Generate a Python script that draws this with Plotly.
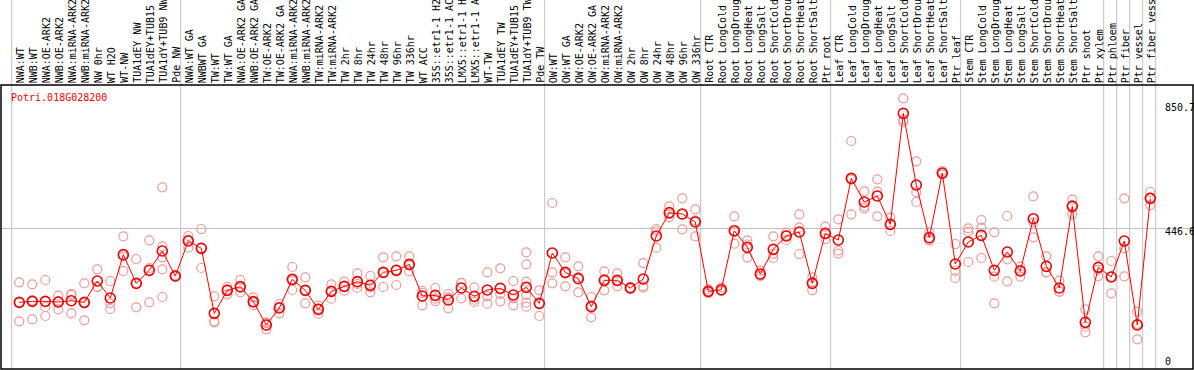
import plotly.graph_objects as go

gene = "Potri.018G028200"

labels = [
    "NWA:WT", "NWB:WT", "NWA:OE-ARK2", "NWB:OE-ARK2", "NWA:miRNA-ARK2", "NWB:miRNA-ARK2",
    "NW 0hr", "WT H2O", "WT-NW", "TUA1dEY NW", "TUA1dEY+TUB15", "TUA1dY+TUB9 NW", "Pde NW",
    "NWA:WT GA", "NWBWT GA", "TW:WT", "TW:WT GA", "NWA:OE-ARK2 GA", "NWB:OE-ARK2 GA",
    "TW:OE-ARK2", "TW:OE-ARK2 GA", "NWA:miRNA-ARK2", "NWB:miRNA-ARK2", "TW:miRNA-ARK2",
    "TW:miRNA-ARK2", "TW 2hr", "TW 8hr", "TW 24hr", "TW 48hr", "TW 96hr", "TW 336hr",
    "WT ACC", "35S::etr1-1 H2O", "35S::etr1-1 ACC", "LMX5::etr1-1 H2O", "LMX5::etr1-1 ACC",
    "WT-TW", "TUA1dEY TW", "TUA1dEY+TUB15", "TUA1dY+TUB9 TW", "Pde TW",
    "OW:WT", "OW:WT GA", "OW:OE-ARK2", "OW:OE-ARK2 GA", "OW:miRNA-ARK2", "OW:miRNA-ARK2",
    "OW 2hr", "OW 8hr", "OW 24hr", "OW 48hr", "OW 96hr", "OW 336hr",
    "Root CTR", "Root LongCold", "Root LongDrought", "Root LongHeat", "Root LongSalt",
    "Root ShortCold", "Root ShortDrought", "Root ShortHeat", "Root ShortSalt", "Ptr root",
    "Leaf CTR", "Leaf LongCold", "Leaf LongDrought", "Leaf LongHeat", "Leaf LongSalt",
    "Leaf ShortCold", "Leaf ShortDrought", "Leaf ShortHeat", "Leaf ShortSalt", "Ptr leaf",
    "Stem CTR", "Stem LongCold", "Stem LongDrought", "Stem LongHeat", "Stem LongSalt",
    "Stem ShortCold", "Stem ShortDrought", "Stem ShortHeat", "Stem ShortSalt", "Ptr shoot",
    "Ptr xylem", "Ptr phloem", "Ptr fiber", "Ptr vessel", "Ptr fiber vessel",
]

means = [
    206.6, 209.8, 209.8, 207.7, 212.0, 206.6, 275.7, 220.6, 361.1, 268.2, 310.3, 372.9, 291.9,
    405.4, 381.6, 170.9, 245.5, 257.4, 208.8, 133.2, 188.2, 281.1, 245.5, 183.9, 242.2, 258.5,
    273.6, 261.7, 303.8, 310.3, 329.7, 227.1, 229.3, 214.2, 253.1, 226.1, 246.6, 252.0, 230.4,
    255.2, 203.4,
    366.5, 303.8, 283.3, 192.6, 277.9, 277.9, 253.1, 282.2, 421.6, 497.2, 492.9, 466.9,
    242.2, 247.6, 438.8, 384.8, 298.4, 378.4, 421.6, 434.5, 268.2, 430.2,
    408.6, 608.4, 531.8, 551.2, 459.4, 819.1, 586.8, 416.2, 625.7, 330.8,
    402.1, 423.7, 310.3, 369.7, 308.1, 477.7, 323.3, 253.1, 517.7, 141.8,
    320.0, 288.7, 405.4, 133.2, 543.6,
]

replicates = [
    [271.4, 145.0, 206], [264.9, 151.5, 213], [279.0, 191.5, 162.3], [228.2, 183.9, 211],
    [233.6, 171.0, 231], [268.2, 148.3, 203], [313.5, 257.4, 256], [275.7, 203.4, 185.0],
    [420.5, 308.1, 355], [347.0, 190.4, 267], [407.5, 317.9, 206.6],
    [579.3, 388.0, 352.4, 313.5, 223.9], [292, 290, 294],
    [421.6, 383.8, 410], [444.2, 317.9, 383], [226.1, 145.0, 142], [256.3, 232.5, 248],
    [279.0, 239.0, 254], [222.8, 198.0, 206], [141.8, 119.1, 139], [201.2, 171.0, 192],
    [321.1, 246.6, 276], [287.6, 203.4, 246], [195.8, 169.9, 186], [264.9, 218.5, 243],
    [273.6, 244.4, 258], [300.6, 254.1, 266], [291.9, 239.0, 254], [352.4, 256.3, 303],
    [355.7, 262.8, 312], [355.7, 307.1, 326], [243.3, 236.8, 196.9], [253.1, 218.5, 210.9],
    [233.6, 187.2, 222], [269.3, 219.6, 270], [255.2, 207.7, 215], [303.8, 226.1, 202.3],
    [316.8, 233.6, 209.8], [275.7, 219.6, 196.9],
    [368.6, 329.7, 273.6, 230.4, 205.5, 192.6], [245.5, 162.3, 202],
    [528.5, 303.8, 268.2], [352.4, 258.5, 300], [323.3, 239.0, 288], [223.9, 158.0, 196],
    [307.1, 245.5, 281], [300.6, 258.5, 275], [256, 250, 253], [334.0, 254.1, 258.5],
    [444.2, 383.8, 437], [517.7, 482.1, 492], [543.6, 443.2, 492], [508.0, 420.5, 472],
    [235.8, 249.8, 241], [255.2, 244.4, 243], [485.3, 396.7, 434], [407.5, 352.4, 394],
    [309.2, 291.9, 294], [420.5, 350.3, 364], [432.4, 408.6, 424], [491.8, 448.6, 363.2],
    [287.6, 245.5, 272], [451.8, 411.8, 427],
    [475.6, 374.0, 364.3], [729.4, 491.8, 604], [566.3, 511.2, 518], [605.2, 565.2, 485.3],
    [481.0, 437.8, 459], [867.7, 798.6, 791], [663.5, 563.1, 531.8], [433.4, 407.5, 408],
    [632.2, 620.3, 625], [395.6, 308.1, 285.5],
    [446.4, 435.6, 337.3], [473.4, 448.6, 350.3], [433.4, 289.8, 203.4], [486.4, 346.0, 274.6],
    [322.2, 289.8, 312], [550.1, 417.3, 466], [355.7, 304.9, 302.8], [276.8, 240.1, 242],
    [539.3, 491.8, 522], [183.9, 127.8, 109.4],
    [355.7, 291.9, 312], [340.6, 235.8, 290], [543.6, 381.6, 290.9], [176.4, 86.7, 137],
    [564.1, 521.0, 546],
]

# indices of the first column of each group (separator drawn just before it)
group_starts = [0, 13, 41, 53, 63, 73, 84, 85, 86, 87, 88]
y_ticks = [0, 446.6, 850.7]
y_tick_text = ["0", "446.6", "850.7"]

FONT = "DejaVu Sans Mono"
xs = list(range(len(labels)))

rx, ry = [], []
for i, reps in enumerate(replicates):
    for v in reps:
        rx.append(i)
        ry.append(v)

fig = go.Figure()
fig.add_trace(go.Scatter(
    x=rx, y=ry, mode="markers",
    marker=dict(symbol="circle-open", size=9, color="#ee9a9a", line=dict(width=1.2)),
    hoverinfo="skip", showlegend=False,
))
fig.add_trace(go.Scatter(
    x=xs, y=means, mode="lines+markers",
    line=dict(color="#ff0000", width=1),
    marker=dict(symbol="circle-open", size=10, color="#ee0000", line=dict(width=1.6)),
    showlegend=False,
))

shapes = []
for k in group_starts:
    shapes.append(dict(type="line", xref="x", yref="paper", x0=k - 0.585, x1=k - 0.585,
                       y0=0, y1=1.32, line=dict(color="#c0c0c0", width=1), layer="below"))
shapes.append(dict(type="rect", xref="paper", yref="paper", x0=0, x1=1, y0=0, y1=1,
                   line=dict(color="black", width=1.5), layer="above"))

annotations = []
for i, lab in enumerate(labels):
    annotations.append(dict(x=i, y=1, xref="x", yref="paper", text=lab, showarrow=False,
                            textangle=-90, xanchor="center", yanchor="bottom", yshift=0,
                            xshift=1, font=dict(family=FONT, size=10, color="black")))
for v, t in zip(y_ticks, y_tick_text):
    shift = 5 if v == 0 else -3.5
    annotations.append(dict(x=0.9748, y=v, xref="paper", yref="y", text=t, showarrow=False,
                            xanchor="left", yanchor="middle", yshift=shift,
                            font=dict(family=FONT, size=10, color="black")))
annotations.append(dict(x=0.007, y=0.9567, xref="paper", yref="paper", text=gene,
                        showarrow=False, xanchor="left", yanchor="middle",
                        font=dict(family=FONT, size=10, color="#ff0000")))

fig.update_layout(
    width=1194, height=370,
    margin=dict(l=1, r=1, t=85, b=1),
    paper_bgcolor="white", plot_bgcolor="white",
    xaxis=dict(range=[-1.408, 90.285], showgrid=False, zeroline=False, showticklabels=False,
               ticks=""),
    yaxis=dict(range=[-9.4, 910.9], tickvals=[446.6], showgrid=True, gridcolor="#c0c0c0",
               gridwidth=1, zeroline=False, showticklabels=False, ticks=""),
    shapes=shapes, annotations=annotations,
)
fig.write_html(
    "out.html",
    config={"displayModeBar": False},
    post_script="document.body.style.margin='0';document.body.style.overflow='hidden';",
)
